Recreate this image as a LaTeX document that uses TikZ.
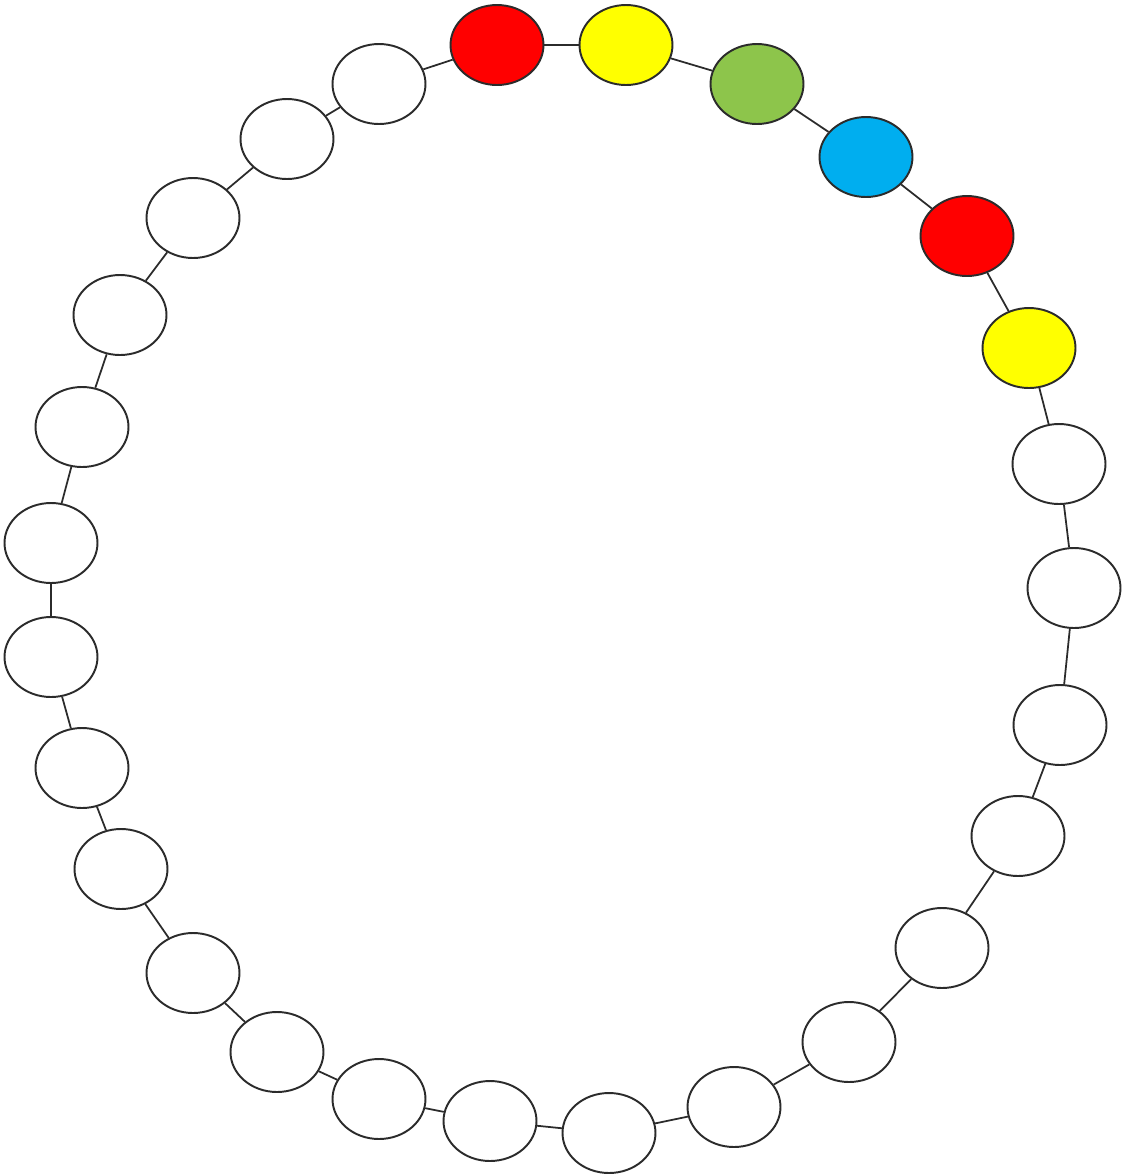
\documentclass[tikz,border=0pt]{standalone}
\usepackage{xcolor}
\usetikzlibrary{shapes.geometric}
\definecolor{beadRed}    {HTML}{FF0000}
\definecolor{beadYellow} {HTML}{FFFF00}
\definecolor{beadGreen}  {HTML}{8DC54B}
\definecolor{beadBlue}   {HTML}{00AEEF}
\definecolor{beadLine}   {HTML}{2B2B2B}
\tikzset{
  bead/.style={ellipse,draw=beadLine,line width=1.1pt,
    minimum width=1.86cm,minimum height=1.6cm,inner sep=0pt},
  link/.style={draw=beadLine,line width=1.0pt},
}

\begin{document}
\begin{tikzpicture}[x=0.02cm,y=-0.02cm]

\useasboundingbox (0,0) rectangle (1123,1174);

% beads around the ring, clockwise from the top
\foreach \i/\x/\y/\c in {
  1/497/45/beadRed, 2/626/45/beadYellow, 3/757/84/beadGreen,
  4/866/157/beadBlue, 5/967/236/beadRed, 6/1029/348/beadYellow,
  7/1059/464/white, 8/1074/588/white, 9/1060/725/white,
  10/1018/836/white, 11/942/948/white, 12/849/1042/white,
  13/734/1107/white, 14/609/1133/white, 15/490/1121/white,
  16/379/1099/white, 17/277/1052/white, 18/193/973/white,
  19/121/869/white, 20/82/768/white, 21/51/657/white,
  22/51/543/white, 23/82/427/white, 24/120/315/white,
  25/193/218/white, 26/287/139/white, 27/379/84/white}
  \node[bead,fill=\c] (b\i) at (\x,\y) {};

% links between neighbours
\foreach \i [evaluate=\i as \j using {int(mod(\i,27)+1)}] in {1,...,27}
  \draw[link] (b\i) -- (b\j);

\end{tikzpicture}
\end{document}
